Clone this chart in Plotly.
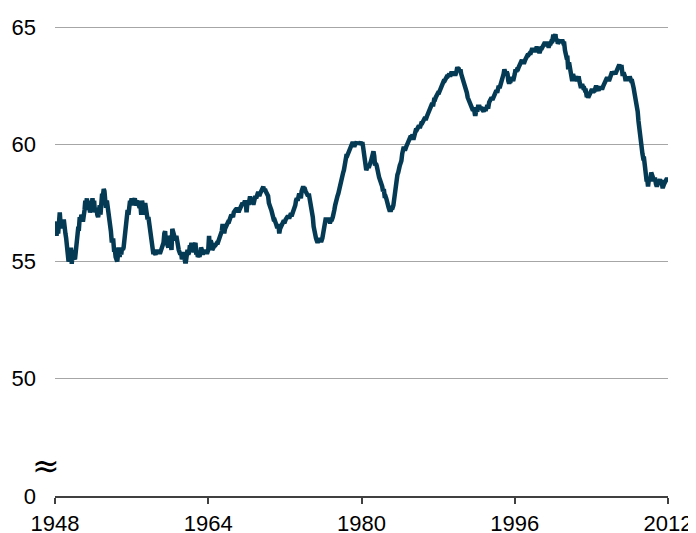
import pandas as pd
import plotly.graph_objects as go

# ── Colours ──────────────────────────────────────────────────────────────────
LINE_COLOR = "#053A55"
GRID_COLOR = "#A6A6A6"
AXIS_COLOR = "#404040"
FONT = "Liberation Sans, Arial, sans-serif"

# ── Monthly employment-to-population ratio (%) ───────────────────────────────
ratio_1948_1955 = [
    56.6, 56.7, 56.1, 56.7, 56.2, 57.0, 57.1, 56.6, 56.6, 56.5, 56.5, 56.8,
    56.2, 56.2, 56.0, 55.7, 55.4, 55.0, 55.1, 55.2, 55.6, 54.9, 55.5, 55.2,
    55.1, 55.1, 55.4, 55.9, 56.2, 56.4, 56.4, 56.9, 56.7, 57.0, 56.9, 56.7,
    56.9, 57.2, 57.6, 57.4, 57.7, 57.2, 57.6, 57.3, 57.1, 57.2, 57.5, 57.7,
    57.3, 57.6, 57.1, 57.2, 57.3, 57.0, 56.9, 57.1, 57.4, 57.0, 57.6, 57.9,
    57.8, 58.1, 58.0, 57.6, 57.3, 57.6, 57.4, 57.0, 56.8, 56.6, 56.3, 55.9,
    55.9, 55.9, 55.5, 55.5, 55.2, 55.1, 55.0, 55.3, 55.6, 55.2, 55.5, 55.3,
    55.6, 55.5, 55.6, 56.0, 56.3, 56.6, 56.8, 57.2, 57.0, 57.3, 57.6, 57.5,
]
ratio_1956_1963 = [
    57.7, 57.5, 57.4, 57.6, 57.7, 57.5, 57.4, 57.6, 57.5, 57.5, 57.3, 57.4,
    57.0, 57.6, 57.3, 57.1, 57.0, 57.5, 57.1, 57.2, 56.8, 56.9, 56.6, 56.4,
    56.1, 55.9, 55.6, 55.4, 55.4, 55.3, 55.3, 55.4, 55.5, 55.4, 55.5, 55.4,
    55.4, 55.5, 55.6, 55.8, 55.8, 56.2, 56.3, 55.8, 55.9, 55.7, 55.6, 56.1,
    56.0, 55.7, 55.5, 56.4, 56.3, 56.2, 56.0, 55.9, 56.1, 55.7, 55.7, 55.5,
    55.4, 55.3, 55.4, 55.1, 55.2, 55.4, 55.1, 55.0, 55.0, 55.4, 55.5, 55.3,
    55.4, 55.7, 55.6, 55.8, 55.7, 55.5, 55.4, 55.7, 55.8, 55.3, 55.4, 55.2,
    55.3, 55.2, 55.4, 55.6, 55.5, 55.3, 55.4, 55.5, 55.4, 55.5, 55.4, 55.4,
]
ratio_1964_1971 = [
    55.5, 56.1, 55.6, 55.9, 55.8, 55.5, 55.6, 55.6, 55.7, 55.7, 55.8, 55.8,
    55.8, 55.9, 56.0, 56.1, 56.2, 56.3, 56.6, 56.3, 56.2, 56.4, 56.5, 56.6,
    56.6, 56.7, 56.7, 56.9, 56.9, 57.0, 56.9, 56.9, 57.1, 57.2, 57.2, 57.2,
    57.3, 57.2, 57.1, 57.2, 57.3, 57.3, 57.4, 57.5, 57.4, 57.5, 57.6, 57.5,
    57.1, 57.5, 57.5, 57.5, 57.7, 57.7, 57.6, 57.5, 57.5, 57.5, 57.7, 57.8,
    57.7, 57.9, 57.9, 57.9, 57.8, 57.9, 58.0, 58.1, 58.1, 58.2, 58.0, 58.1,
    58.0, 57.9, 57.8, 57.8, 57.5, 57.3, 57.3, 57.2, 57.0, 57.0, 56.8, 56.8,
    56.6, 56.6, 56.5, 56.5, 56.6, 56.2, 56.4, 56.5, 56.6, 56.6, 56.7, 56.7,
]
ratio_1972_1979 = [
    56.7, 56.8, 56.9, 56.9, 56.9, 56.9, 56.9, 57.0, 57.0, 57.0, 57.1, 57.2,
    57.2, 57.4, 57.6, 57.7, 57.6, 57.8, 57.9, 57.8, 57.7, 58.0, 58.2, 58.2,
    58.1, 58.1, 58.0, 57.9, 57.9, 57.8, 57.9, 57.7, 57.6, 57.5, 57.2, 56.9,
    56.5, 56.2, 56.0, 56.0, 55.9, 55.8, 55.9, 56.0, 55.9, 55.9, 55.9, 56.0,
    56.3, 56.5, 56.6, 56.8, 56.8, 56.7, 56.8, 56.8, 56.7, 56.7, 56.8, 56.8,
    56.9, 57.0, 57.2, 57.4, 57.6, 57.7, 57.8, 57.9, 58.1, 58.2, 58.4, 58.6,
    58.7, 58.8, 58.9, 59.2, 59.4, 59.5, 59.5, 59.6, 59.6, 59.8, 59.9, 60.0,
    60.0, 60.1, 60.0, 59.9, 60.0, 60.1, 60.1, 60.0, 60.1, 60.0, 60.1, 60.1,
]
ratio_1980_1987 = [
    60.0, 60.1, 59.9, 59.6, 59.2, 59.0, 58.9, 59.0, 59.1, 59.0, 59.2, 59.2,
    59.3, 59.4, 59.6, 59.7, 59.5, 59.1, 59.2, 59.1, 58.8, 58.8, 58.6, 58.5,
    58.4, 58.4, 58.2, 58.0, 58.1, 57.8, 57.8, 57.7, 57.5, 57.3, 57.3, 57.2,
    57.2, 57.2, 57.3, 57.3, 57.4, 57.7, 58.1, 58.3, 58.6, 58.7, 58.8, 59.1,
    59.1, 59.2, 59.3, 59.6, 59.8, 59.9, 59.8, 59.8, 59.9, 60.0, 60.1, 60.1,
    60.2, 60.3, 60.3, 60.4, 60.4, 60.2, 60.4, 60.5, 60.6, 60.6, 60.7, 60.7,
    60.8, 60.7, 60.9, 60.9, 60.9, 61.0, 61.0, 61.1, 61.1, 61.1, 61.2, 61.3,
    61.3, 61.4, 61.5, 61.6, 61.7, 61.7, 61.7, 61.9, 61.9, 62.0, 62.1, 62.1,
]
ratio_1988_1995 = [
    62.2, 62.2, 62.3, 62.4, 62.5, 62.5, 62.6, 62.7, 62.7, 62.8, 62.9, 62.9,
    62.9, 63.0, 63.0, 62.9, 63.0, 63.1, 63.0, 63.1, 63.0, 63.0, 63.0, 63.1,
    63.3, 63.2, 63.2, 63.1, 63.2, 63.0, 62.9, 62.8, 62.7, 62.6, 62.4, 62.3,
    62.2, 62.0, 61.9, 61.9, 61.7, 61.6, 61.6, 61.5, 61.5, 61.5, 61.3, 61.3,
    61.5, 61.4, 61.6, 61.6, 61.6, 61.5, 61.6, 61.5, 61.4, 61.4, 61.5, 61.5,
    61.5, 61.6, 61.6, 61.6, 61.8, 61.9, 61.9, 62.0, 61.9, 62.0, 62.1, 62.2,
    62.3, 62.3, 62.2, 62.3, 62.5, 62.4, 62.5, 62.6, 62.8, 62.9, 63.0, 63.2,
    63.0, 63.0, 63.1, 63.0, 62.7, 62.6, 62.7, 62.7, 62.8, 62.8, 62.7, 62.8,
]
ratio_1996_2003 = [
    63.0, 63.2, 63.1, 63.2, 63.2, 63.3, 63.4, 63.4, 63.5, 63.6, 63.5, 63.5,
    63.5, 63.6, 63.7, 63.7, 63.8, 63.8, 63.9, 63.9, 63.9, 64.0, 64.1, 64.0,
    64.1, 64.0, 64.0, 64.1, 64.1, 64.0, 64.0, 63.9, 64.1, 64.1, 64.1, 64.2,
    64.2, 64.3, 64.3, 64.2, 64.3, 64.3, 64.2, 64.2, 64.3, 64.3, 64.4, 64.4,
    64.6, 64.6, 64.6, 64.7, 64.4, 64.5, 64.3, 64.4, 64.4, 64.4, 64.4, 64.4,
    64.4, 64.3, 64.3, 64.0, 63.8, 63.7, 63.7, 63.2, 63.5, 63.2, 63.0, 62.9,
    62.7, 63.0, 62.8, 62.7, 62.9, 62.7, 62.7, 62.8, 62.9, 62.7, 62.5, 62.4,
    62.5, 62.5, 62.4, 62.4, 62.3, 62.3, 62.1, 62.1, 62.0, 62.1, 62.2, 62.2,
]
ratio_2004_2012 = [
    62.3, 62.3, 62.2, 62.3, 62.3, 62.4, 62.5, 62.4, 62.3, 62.3, 62.4, 62.4,
    62.4, 62.4, 62.4, 62.5, 62.6, 62.7, 62.7, 62.8, 62.8, 62.8, 62.7, 62.8,
    62.9, 63.0, 63.1, 63.0, 63.1, 63.1, 63.0, 63.1, 63.1, 63.3, 63.3, 63.4,
    63.3, 63.3, 63.3, 63.0, 63.0, 63.0, 62.9, 62.7, 62.9, 62.7, 62.9, 62.7,
    62.9, 62.7, 62.7, 62.7, 62.6, 62.4, 62.2, 62.0, 61.9, 61.7, 61.4, 61.0,
    60.6, 60.3, 59.9, 59.8, 59.6, 59.4, 59.4, 59.1, 58.7, 58.5, 58.5, 58.2,
    58.5, 58.5, 58.5, 58.8, 58.7, 58.5, 58.5, 58.5, 58.5, 58.3, 58.2, 58.3,
    58.4, 58.4, 58.5, 58.4, 58.4, 58.2, 58.2, 58.3, 58.4, 58.4, 58.5, 58.5,
    58.5,
]

tick_years = [1948, 1964, 1980, 1996, 2012]
y_tickvals = [45, 50, 55, 60, 65]
y_ticktext = ["0", "50", "55", "60", "65"]   # 45 stands in for 0 (broken axis)

ratio = (ratio_1948_1955 + ratio_1956_1963 + ratio_1964_1971 + ratio_1972_1979
         + ratio_1980_1987 + ratio_1988_1995 + ratio_1996_2003 + ratio_2004_2012)
dates = pd.date_range("1948-01-01", periods=len(ratio), freq="MS")

fig = go.Figure(go.Scatter(
    x=dates, y=ratio, mode="lines",
    line=dict(color=LINE_COLOR, width=4.5),
    hoverinfo="x+y", showlegend=False
))

# page body has an 8px margin, so the figure is sized to fit inside it
fig.update_layout(
    width=688, height=525,
    margin=dict(l=47, r=28, t=18, b=37),
    paper_bgcolor="white", plot_bgcolor="white",
    font=dict(family=FONT, size=22, color="#000000"),
    xaxis=dict(
        range=[pd.Timestamp("1948-01-01"), pd.Timestamp("2012-01-01")],
        tickvals=[pd.Timestamp(f"{y}-01-01") for y in tick_years],
        ticktext=[str(y) for y in tick_years],
        showgrid=False, zeroline=False, automargin=False,
        showline=True, linecolor=AXIS_COLOR, linewidth=2,
        ticks="outside", ticklen=6, tickwidth=1.5, tickcolor=AXIS_COLOR,
        ticklabelstandoff=1,
    ),
    yaxis=dict(
        range=[45, 65.05],
        tickvals=y_tickvals, ticktext=y_ticktext,
        showgrid=True, gridcolor=GRID_COLOR, gridwidth=1,
        zeroline=False, showline=False, ticks="", automargin=False,
        ticklabelstandoff=18,
    ),
)

# axis-break marker between 0 and 50
fig.add_annotation(
    x=-0.015, xref="paper", y=46.3, yref="y",
    text="≈", showarrow=False, xanchor="center", yanchor="middle",
    font=dict(family="DejaVu Sans", size=33, color="#000000"),
)

fig.write_html("out.html")
